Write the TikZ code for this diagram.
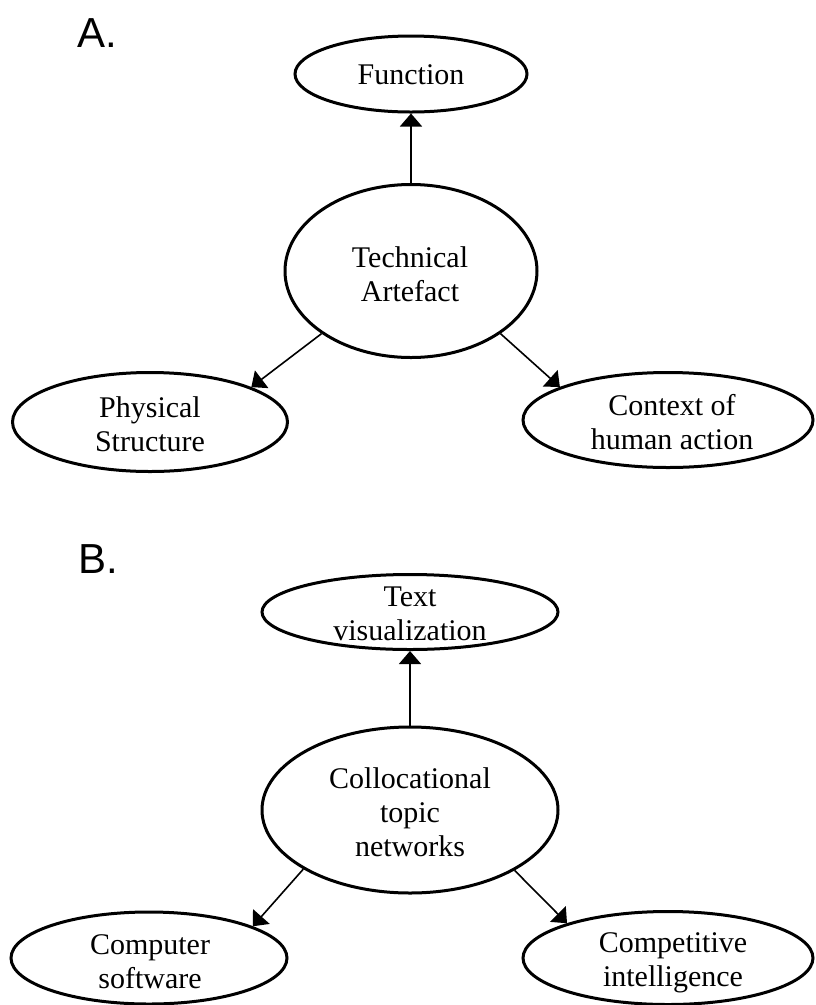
\documentclass[tikz,border=0pt]{standalone}
\usepackage{fontspec}
\setmainfont{Liberation Serif}
\newfontfamily\panelfont{Liberation Sans}
\usetikzlibrary{arrows.meta,shapes.geometric}
\begin{document}
\begin{tikzpicture}[x=1pt,y=-1pt,
  oval/.style={draw, ellipse, line width=3pt, inner sep=0pt},
  lbl/.style={align=center, inner sep=0pt, anchor=north, font=\fontsize{30}{34}\selectfont},
  panel/.style={anchor=base west, inner sep=0pt, font=\panelfont\fontsize{42}{42}\selectfont},
  link/.style={line width=1.6pt, -{Triangle[length=13pt,width=22pt]}}]
\useasboundingbox (0,0) rectangle (815,1005);

% ---------- Panel A ----------
\node[panel] (pa) at (77,47) {A.};
\node[oval, minimum width=232pt, minimum height=76pt]  (func) at (411,74)  {};
\node[oval, minimum width=252pt, minimum height=173pt] (tech) at (411,271) {};
\node[oval, minimum width=275pt, minimum height=99pt]  (phys) at (150,422) {};
\node[oval, minimum width=290pt, minimum height=95pt]  (ctx)  at (668,420) {};

\node[lbl] (funct) at (411,64.5)  {Function};
\node[lbl] (techt) at (410,246.5) {Technical\\Artefact};
\node[lbl] (physt) at (150,396.5) {Physical\\Structure};
\node[lbl] (ctxt)  at (672,394.5) {Context of\\human action};

\draw[link] (tech.north) -- (func.south);
\draw[link] (tech.215) -- (phys.19);
\draw[link] (tech.-35) -- (ctx.163);

% ---------- Panel B ----------
\node[panel] (pb) at (78,573) {B.};
\node[oval, minimum width=296pt, minimum height=75pt]  (tv)    at (410,612) {};
\node[oval, minimum width=296pt, minimum height=166pt] (coll)  at (410,810) {};
\node[oval, minimum width=276pt, minimum height=92pt]  (comp)  at (149,958) {};
\node[oval, minimum width=290pt, minimum height=93pt]  (compt) at (668,958) {};

\node[lbl] (tvt)    at (410,586.5) {Text\\visualization};
\node[lbl] (collt)  at (410,767.5) {Collocational\\topic\\networks};
\node[lbl] (compl)  at (150,934.5) {Computer\\software};
\node[lbl] (comptl) at (673,932.5) {Competitive\\intelligence};

\draw[link] (coll.north) -- (tv.south);
\draw[link] (coll.209) -- (comp.17);
\draw[link] (coll.-30) -- (compt.161);
\end{tikzpicture}
\end{document}
